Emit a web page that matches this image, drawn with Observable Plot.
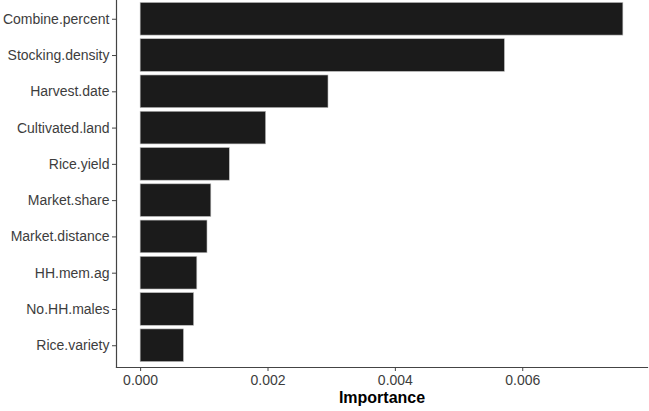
<!DOCTYPE html>
<html>
<head>
<meta charset="utf-8">
<script src="https://cdn.jsdelivr.net/npm/d3@7"></script>
<script src="https://cdn.jsdelivr.net/npm/@observablehq/plot@0.6"></script>
<style>
  html, body { margin: 0; padding: 0; background: #fff; }
  svg { display: block; }
</style>
</head>
<body>
<div id="chart"></div>
<script>
const features = ["Combine.percent", "Stocking.density", "Harvest.date", "Cultivated.land", "Rice.yield",
                  "Market.share", "Market.distance", "HH.mem.ag", "No.HH.males", "Rice.variety"];
const importance = [0.00758, 0.00572, 0.00295, 0.00197, 0.00140, 0.00111, 0.00105, 0.00089, 0.00084, 0.00068];
const xTicks = [0, 0.002, 0.004, 0.006];
const xTitle = "Importance";

const data = features.map((f, i) => ({feature: f, value: importance[i]}));
const maxV = d3.max(importance);

const chart = Plot.plot({
  width: 649,
  height: 411,
  marginLeft: 116,
  marginRight: 2,
  marginTop: 0,
  marginBottom: 44,
  style: {fontFamily: "'Liberation Sans', Arial, sans-serif", fontSize: "14px", background: "#fff"},
  x: {domain: [-0.05 * maxV, 1.05 * maxV]},
  y: {domain: features, paddingInner: 0.1, paddingOuter: 0.15, round: false, range: [-3, 367]},
  marks: [
    Plot.barX(data, {y: "feature", x: "value", fill: "#1b1b1b", stroke: "#bdbdbd", strokeWidth: 0.6}),
    Plot.frame({anchor: "left", stroke: "#444", strokeWidth: 1.2}),
    Plot.frame({anchor: "bottom", stroke: "#444", strokeWidth: 1.2}),
    Plot.axisY({tickSize: 4, tickPadding: 3, label: null, color: "#3d3d3d", stroke: "#444", fontSize: 14}),
    Plot.axisX({ticks: xTicks, tickFormat: d3.format(".3f"), tickSize: 4, tickPadding: 4, label: null, color: "#3d3d3d", stroke: "#444", fontSize: 14}),
    Plot.text([xTitle], {frameAnchor: "bottom", dy: 30, lineAnchor: "middle", fontWeight: "bold", fontSize: 16, fill: "#000"})
  ]
});
document.getElementById("chart").appendChild(chart);
</script>
</body>
</html>
